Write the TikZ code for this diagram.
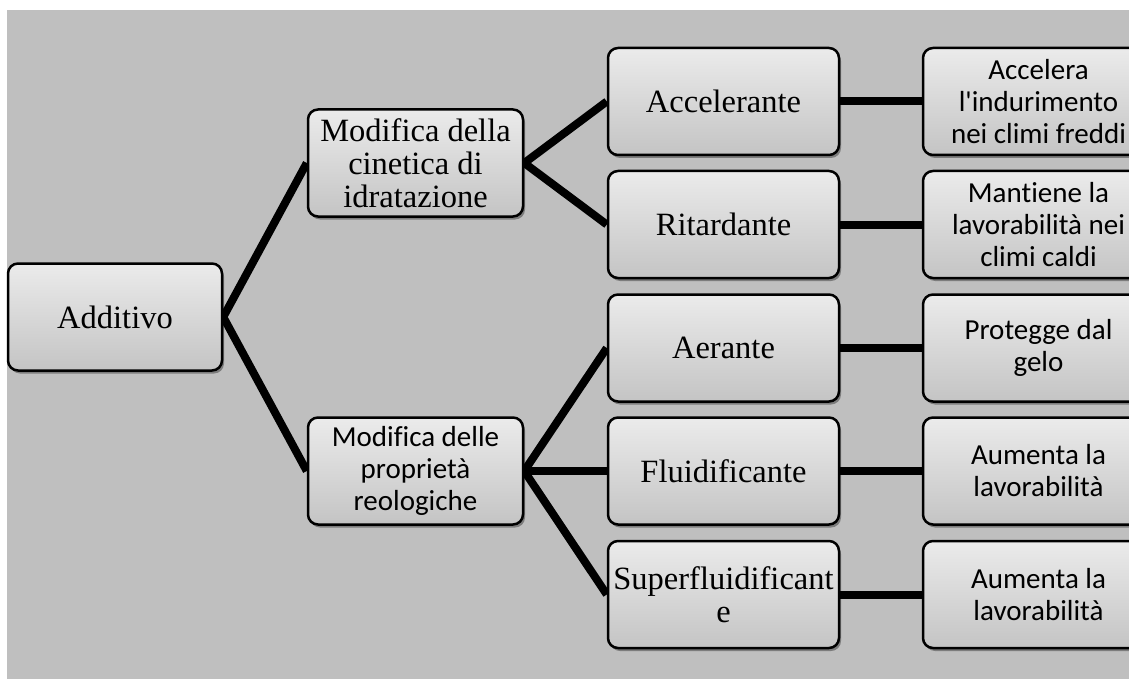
\documentclass[tikz,border=0pt]{standalone}
\usepackage{fontspec}
\setmainfont{Liberation Serif}
\newfontfamily\calibrifont[RawFeature={-liga;-clig;-dlig;-calt}]{Carlito}
\usetikzlibrary{shadows,backgrounds}
\definecolor{bg}{HTML}{BFBFBF}
\definecolor{boxtop}{HTML}{EBEBEB}
\definecolor{boxbot}{HTML}{C4C4C4}
\begin{document}
\begin{tikzpicture}[x=1pt,y=-1pt,
  box/.style={draw=black, line width=2.5pt, rounded corners=10pt,
    top color=boxtop, bottom color=boxbot, minimum height=107pt,
    align=center, inner sep=2pt,
    drop shadow={shadow xshift=2pt, shadow yshift=-3pt, opacity=0.35, fill=black}},
  serif/.style={font=\fontsize{32.5}{33}\selectfont},
  sans/.style={font=\calibrifont\fontsize{29}{32}\selectfont},
  w1/.style={minimum width=214pt},
  w2/.style={minimum width=215pt},
  w3/.style={minimum width=231pt},
  link/.style={line width=8pt}]
\useasboundingbox (0,0) rectangle (1129,679);

\node[box,w1,serif] (add) at (115,317) {Additivo};
\node[box,w2,serif] (m1) at (415.5,163) {Modifica della\\cinetica di\\idratazione};
\node[box,w2,sans] (m2) at (415.5,471) {Modifica delle\\proprietà\\reologiche};

\node[box,w3,serif] (acc) at (723.5,101.5) {Accelerante};
\node[box,w3,serif] (rit) at (723.5,224.5) {Ritardante};
\node[box,w3,serif] (aer) at (723.5,348) {Aerante};
\node[box,w3,serif] (flu) at (723.5,471) {Fluidificante};
\node[box,w3,serif] (sup) at (723.5,594.5) {Superfluidificant\\e};

\node[box,w3,sans] (d1) at (1038.5,101.5) {Accelera\\l'indurimento\\nei climi freddi};
\node[box,w3,sans] (d2) at (1038.5,224.5) {Mantiene la\\lavorabilità nei\\climi caldi};
\node[box,w3,sans] (d3) at (1038.5,348) {Protegge dal\\gelo};
\node[box,w3,sans] (d4) at (1038.5,471) {Aumenta la\\lavorabilità};
\node[box,w3,sans] (d5) at (1038.5,594.5) {Aumenta la\\lavorabilità};

\begin{scope}[on background layer]
  \fill[bg] (7,10) rectangle (1129,679);
  \draw[link] (add.east) -- (m1.west);
  \draw[link] (add.east) -- (m2.west);
  \draw[link] (m1.east) -- (acc.west);
  \draw[link] (m1.east) -- (rit.west);
  \draw[link] (m2.east) -- (aer.west);
  \draw[link] (m2.east) -- (flu.west);
  \draw[link] (m2.east) -- (sup.west);
  \draw[link] (acc.east) -- (d1.west);
  \draw[link] (rit.east) -- (d2.west);
  \draw[link] (aer.east) -- (d3.west);
  \draw[link] (flu.east) -- (d4.west);
  \draw[link] (sup.east) -- (d5.west);
\end{scope}
\end{tikzpicture}
\end{document}
